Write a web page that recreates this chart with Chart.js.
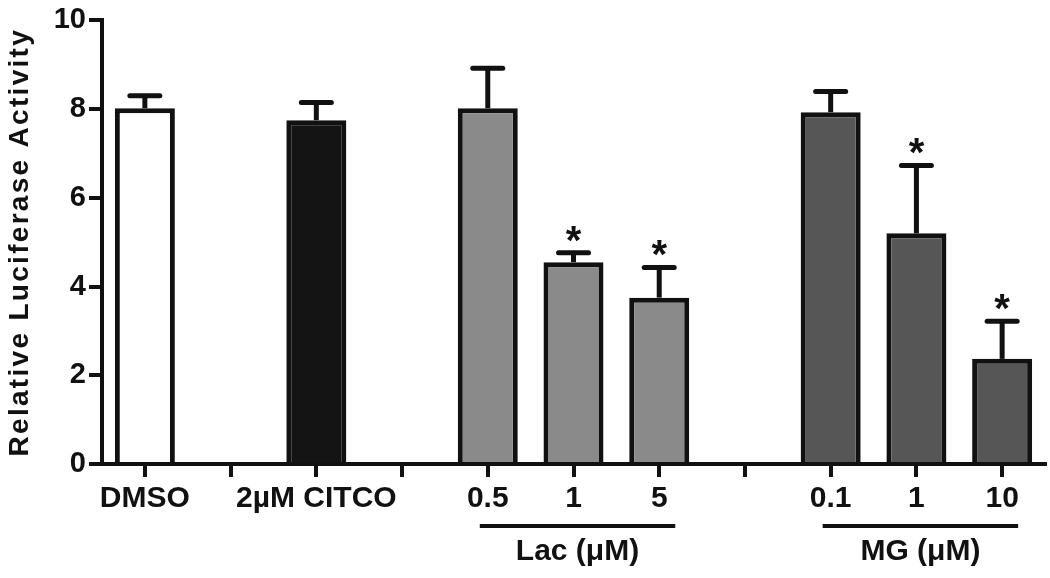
<!DOCTYPE html>
<html>
<head>
<meta charset="utf-8">
<script src="https://cdn.jsdelivr.net/npm/chart.js@4.4.1/dist/chart.umd.min.js"></script>
<style>
  html, body { margin: 0; padding: 0; background: #ffffff; }
  #wrap { width: 1050px; height: 578px; position: relative; }
</style>
</head>
<body>
<div id="wrap"><canvas id="c"></canvas></div>
<script>
// ---- data ----
const categories = ["DMSO", "", "2µM CITCO", "", "0.5", "1", "5", "", "0.1", "1", "10"];
const meanValues = [8.02, null, 7.75, null, 8.02, 4.55, 3.75, null, 7.93, 5.2, 2.37];
const errorValues = [0.28, null, 0.40, null, 0.90, 0.21, 0.68, null, 0.47, 1.53, 0.85];
const significant = [false, false, false, false, false, true, true, false, false, true, true];
const barColors = ["#ffffff", "#ffffff", "#141414", "#ffffff", "#8a8a8a", "#8a8a8a", "#8a8a8a", "#ffffff", "#565656", "#565656", "#565656"];
const groupNames = ["Lac (μM)", "MG (μM)"];
const groupFirst = [4, 8];
const groupLast = [6, 10];
const yTicks = [0, 2, 4, 6, 8, 10];
const yTitle = "Relative Luciferase Activity";

const FONT = "'Liberation Sans', Arial, Helvetica, sans-serif";
const INK = "#111111";

const extras = {
  id: "extras",
  afterDatasetsDraw(chart) {
    const ctx = chart.ctx;
    const meta = chart.getDatasetMeta(0);
    const ys = chart.scales.y;
    ctx.save();
    // error bars (upper only) and significance stars
    meanValues.forEach((v, i) => {
      if (v === null) return;
      const el = meta.data[i];
      const x = el.x;
      const yTop = ys.getPixelForValue(v);
      const yCap = ys.getPixelForValue(v + errorValues[i]);
      ctx.strokeStyle = INK;
      ctx.lineWidth = 5;
      ctx.lineCap = "butt";
      ctx.beginPath();
      ctx.moveTo(x, yTop);
      ctx.lineTo(x, yCap);
      ctx.stroke();
      ctx.lineCap = "round";
      ctx.beginPath();
      ctx.moveTo(x - 15, yCap);
      ctx.lineTo(x + 15, yCap);
      ctx.stroke();
      if (significant[i]) {
        ctx.fillStyle = INK;
        ctx.font = "bold 40px " + FONT;
        ctx.textAlign = "center";
        ctx.textBaseline = "alphabetic";
        ctx.fillText("*", x, yCap + 1);
      }
    });
    ctx.restore();
  },
  afterDraw(chart) {
    const ctx = chart.ctx;
    const xs = chart.scales.x;
    const area = chart.chartArea;
    ctx.save();
    // group underlines and labels
    groupNames.forEach((name, g) => {
      const x0 = xs.getPixelForValue(groupFirst[g]) - 8;
      const x1 = xs.getPixelForValue(groupLast[g]) + 16;
      const yLine = area.bottom + 62;
      ctx.strokeStyle = INK;
      ctx.lineWidth = 4;
      ctx.lineCap = "butt";
      ctx.beginPath();
      ctx.moveTo(x0, yLine);
      ctx.lineTo(x1, yLine);
      ctx.stroke();
      ctx.fillStyle = INK;
      ctx.font = "bold 30px " + FONT;
      ctx.textAlign = "center";
      ctx.textBaseline = "middle";
      ctx.fillText(name, (x0 + x1) / 2, yLine + 26);
    });
    // y-axis title
    ctx.translate(28, (area.top + area.bottom) / 2);
    ctx.rotate(-Math.PI / 2);
    ctx.font = "bold 28px " + FONT;
    ctx.letterSpacing = "2.3px";
    ctx.fillStyle = INK;
    ctx.textAlign = "center";
    ctx.textBaseline = "alphabetic";
    ctx.fillText(yTitle, 0, 0);
    ctx.restore();
  }
};

new Chart(document.getElementById("c"), {
  type: "bar",
  data: {
    labels: categories,
    datasets: [{
      data: meanValues,
      backgroundColor: barColors,
      borderColor: INK,
      borderWidth: 5,
      borderSkipped: "bottom",
      barPercentage: 0.70,
      categoryPercentage: 1.0
    }]
  },
  options: {
    responsive: true,
    maintainAspectRatio: false,
    animation: false,
    layout: { padding: { top: 20, right: 5, left: 0, bottom: 0 } },
    plugins: {
      legend: { display: false },
      tooltip: { enabled: false },
      title: { display: false }
    },
    scales: {
      x: {
        offset: true,
        afterFit(scale) { scale.height = 114; },
        grid: {
          display: true,
          offset: false,
          drawOnChartArea: false,
          drawTicks: true,
          tickLength: 13,
          color: INK,
          lineWidth: 4
        },
        border: { display: true, color: INK, width: 4 },
        ticks: {
          color: INK,
          autoSkip: false,
          maxRotation: 0,
          padding: 4,
          font: { family: FONT, size: 30, weight: "bold" }
        }
      },
      y: {
        min: 0,
        max: 10,
        afterFit(scale) { scale.width = 102; },
        afterBuildTicks(scale) { scale.ticks = yTicks.map(v => ({ value: v })); },
        grid: {
          display: true,
          drawOnChartArea: false,
          drawTicks: true,
          tickLength: 13,
          color: INK,
          lineWidth: 4
        },
        border: { display: true, color: INK, width: 4 },
        ticks: {
          color: INK,
          padding: 3,
          font: { family: FONT, size: 29, weight: "bold" }
        }
      }
    }
  },
  plugins: [extras]
});
</script>
</body>
</html>
